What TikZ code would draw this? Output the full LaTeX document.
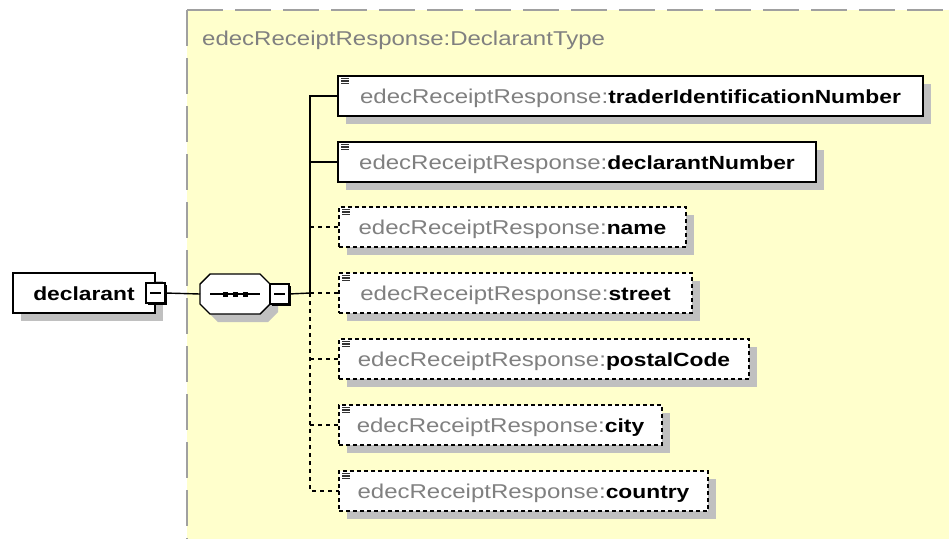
\documentclass[tikz,border=0pt]{standalone}
\usepackage{fontspec}
\newfontfamily\xsans[FakeStretch=1.2]{Liberation Sans}
\usetikzlibrary{shadows}
\definecolor{ybg}{RGB}{255,255,204}
\definecolor{bordergray}{RGB}{160,160,160}
\definecolor{txtgray}{RGB}{128,128,128}
\definecolor{shgray}{RGB}{192,192,192}
\newcommand\edecpre{{\fontsize{20}{23}\selectfont\color{txtgray}edecReceiptResponse:}}
\newcommand\ename[1]{{\fontsize{19}{23}\selectfont\bfseries #1}}
\begin{document}
\begin{tikzpicture}[x=1pt,y=-1pt, font=\xsans,
  elem/.style={draw, line width=1.6pt, fill=white, minimum height=40pt, inner sep=0pt, outer sep=0pt,
    text height=14.3pt, text depth=0pt, anchor=north west,
    drop shadow={shadow xshift=8pt, shadow yshift=-8pt, fill=shgray, opacity=1}},
  optelem/.style={elem, dash pattern=on 4pt off 3pt},
  conn/.style={line width=1.4pt},
  dconn/.style={line width=1.4pt, dash pattern=on 4pt off 4pt},
  minusbox/.style={draw, line width=1.2pt, fill=white, minimum width=19pt, minimum height=20pt,
    inner sep=0pt, outer sep=0pt, anchor=north west,
    drop shadow={shadow xshift=2pt, shadow yshift=-2pt, fill=black, opacity=1},
    path picture={\draw[line width=1.2pt] ([xshift=4pt]path picture bounding box.west) -- ([xshift=-4pt]path picture bounding box.east);}},
  iconline/.style={line width=1.4pt, black!80}
]
\useasboundingbox (0,0) rectangle (949,539);
\fill[white] (0,0) rectangle (949,539);
% type area
\fill[ybg] (187,10) rectangle (949,539);
\draw[bordergray, line width=2pt, dash pattern=on 36pt off 12pt] (187,10) -- (949,10);
\draw[bordergray, line width=2pt, dash pattern=on 36pt off 12pt] (187,10) -- (187,539);
\node[anchor=base west, inner sep=0pt, text=txtgray, font=\xsans\fontsize{20}{23}\selectfont] (title) at (202,45) {edecReceiptResponse:DeclarantType};

% declarant
\node[elem, minimum width=142pt] (decl) at (13,273) {\ename{declarant}};
\node[minusbox] (m1) at (146,283) {};

% sequence compositor
\node[minimum width=70pt, minimum height=40pt, inner sep=0pt, outer sep=0pt, anchor=north west] (seq) at (200,274) {};
\fill[shgray] ([shift={(18,8)}]seq.north west) -- ([shift={(-2,8)}]seq.north east) -- ([shift={(8,18)}]seq.north east)
  -- ([shift={(8,-2)}]seq.south east) -- ([shift={(-2,8)}]seq.south east) -- ([shift={(18,8)}]seq.south west)
  -- ([shift={(8,-2)}]seq.south west) -- ([shift={(8,18)}]seq.north west) -- cycle;
\draw[line width=1.4pt, fill=white] ([xshift=10pt]seq.north west) -- ([xshift=-10pt]seq.north east) -- ([yshift=-10pt]seq.north east)
  -- ([yshift=10pt]seq.south east) -- ([xshift=-10pt]seq.south east) -- ([xshift=10pt]seq.south west)
  -- ([yshift=10pt]seq.south west) -- ([yshift=-10pt]seq.north west) -- cycle;
\draw[line width=1.4pt] ([xshift=10pt]seq.west) -- ([xshift=-10pt]seq.east);
\foreach \dx in {-10,0,10} \fill ([xshift=\dx pt]seq.center) ++(-2.5,-2.5) rectangle ++(5,5);
\node[minusbox] (m2) at (270,284) {};

\draw[conn] (m1.east) -- (seq.west);

% children
\node[elem, minimum width=585pt] (c1) at (338,76) {\edecpre\ename{traderIdentificationNumber}};
\node[elem, minimum width=478pt] (c2) at (338,142) {\edecpre\ename{declarantNumber}};
\node[optelem, minimum width=347pt] (c3) at (339,207) {\edecpre\ename{name}};
\node[optelem, minimum width=353pt] (c4) at (339,273) {\edecpre\ename{street}};
\node[optelem, minimum width=410pt] (c5) at (339,339) {\edecpre\ename{postalCode}};
\node[optelem, minimum width=323pt] (c6) at (339,405) {\edecpre\ename{city}};
\node[optelem, minimum width=369pt] (c7) at (339,471) {\edecpre\ename{country}};
\foreach \i in {1,...,7} \foreach \d in {2.5,5,7.5}
  \draw[iconline] ([shift={(3,\d)}]c\i.north west) -- ++(8,0);

% connectors
\coordinate (tr) at (310,293);
\draw[conn] (m2.east) -- (tr);
\draw[conn] (c1.west) -| (tr);
\draw[conn] (c2.west) -- (c2.west -| tr);
\draw[dconn] (tr) |- (c7.west);
\foreach \i in {3,...,6} \draw[dconn] (c\i.west -| tr) -- (c\i.west);
\end{tikzpicture}
\end{document}
